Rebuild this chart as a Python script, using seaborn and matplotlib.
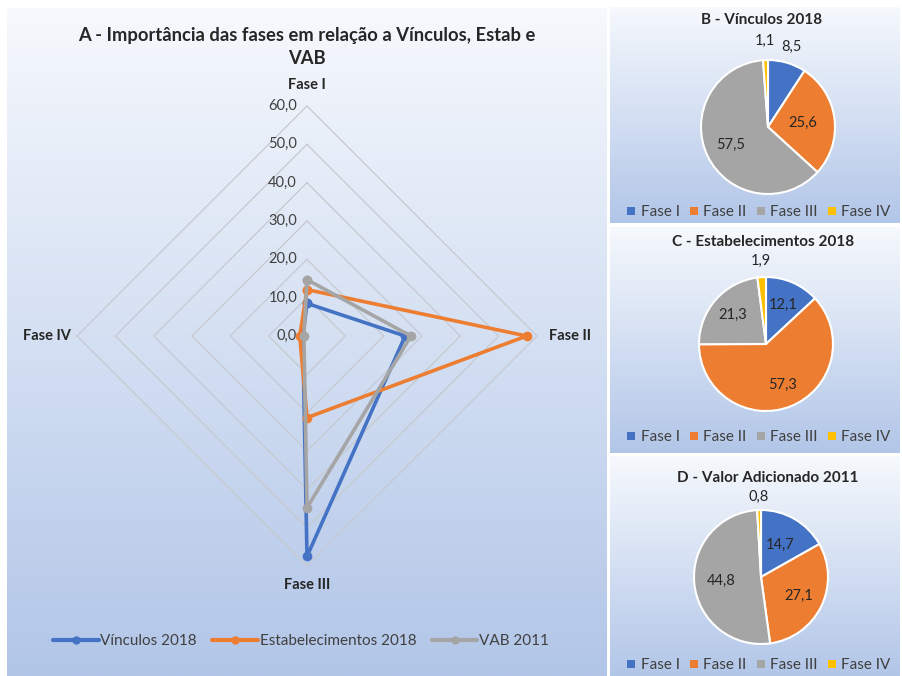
import numpy as np
import pandas as pd
import matplotlib
matplotlib.use('Agg')
import matplotlib.pyplot as plt
import seaborn as sns
from matplotlib.colors import LinearSegmentedColormap
from matplotlib.lines import Line2D

# ---------------- data ----------------
fases = ['Fase I', 'Fase II', 'Fase III', 'Fase IV']
vinculos_2018 = [8.5, 25.6, 57.5, 1.1]
estab_2018 = [12.1, 57.3, 21.3, 1.9]
vab_2011 = [14.7, 27.1, 44.8, 0.8]
series_names = ['Vínculos 2018', 'Estabelecimentos 2018', 'VAB 2011']
radar_ticks = [0, 10, 20, 30, 40, 50, 60]
radar_title = 'A - Importância das fases em relação a Vínculos, Estab e\nVAB'
pie_titles = ['B - Vínculos 2018', 'C - Estabelecimentos 2018', 'D - Valor Adicionado 2011']

colors = ['#4472C4', '#ED7D31', '#A5A5A5', '#FFC000']

W, H = 902, 676
sns.set_theme(style='white')
plt.rcParams['font.family'] = ['Lato', 'DejaVu Sans']
fig = plt.figure(figsize=(W / 100, H / 100), dpi=100)
fig.patch.set_facecolor('white')


def box(x0, y0, x1, y1):
    return [x0 / W, 1 - y1 / H, (x1 - x0) / W, (y1 - y0) / H]


cmap = LinearSegmentedColormap.from_list('bg', ['#f6f9fd', '#b2c6e8'])
grad = np.linspace(0, 1, 256).reshape(-1, 1)


def panel(x0, y0, x1, y1):
    a = fig.add_axes(box(x0, y0, x1, y1), zorder=0)
    a.imshow(grad, cmap=cmap, aspect='auto', extent=(0, 1, 0, 1), origin='upper')
    a.axis('off')


panel(7, 8, 607, 676)
panel(610, 7, 900, 223)
panel(610, 227, 900, 453)
panel(610, 456, 900, 676)

# ---------------- radar ----------------
cx, cy, R = 307, 336, 230
half = 270
lim = half / R * 60
ax = fig.add_axes(box(cx - half, cy - half, cx + half, cy + half), zorder=2)
ax.set_xlim(-lim, lim)
ax.set_ylim(-lim, lim)
ax.axis('off')
ax.patch.set_alpha(0)

theta = np.deg2rad([0, 90, 180, 270])
for r in radar_ticks[1:]:
    gx = np.r_[r * np.sin(theta), 0]
    gy = np.r_[r * np.cos(theta), r]
    ax.plot(gx, gy, color='#c6c9cf', lw=0.9, zorder=1)
for r in radar_ticks:
    ax.text(-2.6, r, f'{r:.1f}'.replace('.', ','), ha='right', va='center',
            fontsize=10.5, color='#404040')

for name, vals, col in zip(series_names, [vinculos_2018, estab_2018, vab_2011], colors):
    v = np.array(vals + vals[:1])
    t = np.r_[theta, theta[0]]
    df = pd.DataFrame({'x': v * np.sin(t), 'y': v * np.cos(t)})
    sns.lineplot(data=df, x='x', y='y', sort=False, estimator=None, ax=ax,
                 color=col, lw=2.6, marker='o', markersize=7, markeredgewidth=0,
                 zorder=3)
ax.set_xlabel('')
ax.set_ylabel('')
ax.set_xlim(-lim, lim)
ax.set_ylim(-lim, lim)

lab_kw = dict(fontsize=10.5, fontweight='bold', color='#262626')
ax.text(0, 65.5, fases[0], ha='center', va='center', **lab_kw)
ax.text(63.2, 0, fases[1], ha='left', va='center', **lab_kw)
ax.text(0, -65, fases[2], ha='center', va='center', **lab_kw)
ax.text(-61.5, 0, fases[3], ha='right', va='center', **lab_kw)

fig.text(307 / W, 1 - 47 / H, radar_title, ha='center', va='center',
         fontsize=13.2, fontweight='bold', color='#262626', linespacing=1.4)

handles = [Line2D([], [], color=c, lw=3, marker='o', markersize=6, markeredgewidth=0)
           for c in colors[:3]]
fig.legend(handles, series_names, loc='center', bbox_to_anchor=(301 / W, 1 - 641 / H),
           ncol=3, frameon=False, fontsize=11, handlelength=3.0, handletextpad=0.1,
           columnspacing=1.0, labelcolor='#404040')

# ---------------- pies ----------------
pie_data = [vinculos_2018, estab_2018, vab_2011]
pie_centers = [(768, 127), (766, 344), (761, 577)]
pie_r = 67
label_dist = [[1.24, 0.52, 0.62, 1.28], [0.64, 0.66, 0.67, 1.25], [0.56, 0.62, 0.6, 1.2]]
title_pos = [(762, 20), (763, 242), (768, 478)]
legend_y = [212, 437, 665]

for vals, (pcx, pcy), dists, title, (tx, ty), ly in zip(pie_data, pie_centers, label_dist,
                                                        pie_titles, title_pos, legend_y):
    pa = fig.add_axes(box(pcx - pie_r, pcy - pie_r, pcx + pie_r, pcy + pie_r), zorder=2)
    wedges, _ = pa.pie(vals, colors=colors, startangle=90, counterclock=False,
                       wedgeprops=dict(edgecolor='white', linewidth=1.5))
    pa.set_xlim(-1, 1)
    pa.set_ylim(-1, 1)
    pa.set_aspect('equal')
    pa.axis('off')
    for w, v, d in zip(wedges, vals, dists):
        ang = np.deg2rad((w.theta1 + w.theta2) / 2)
        pa.text(d * np.cos(ang), d * np.sin(ang), f'{v:.1f}'.replace('.', ','),
                ha='center', va='center', fontsize=10.5, color='#262626')
    fig.text(tx / W, 1 - ty / H, title, ha='center', va='center', fontsize=11,
             fontweight='bold', color='#262626')
    sq = [Line2D([], [], ls='none', marker='s', markersize=6, color=c, markeredgewidth=0)
          for c in colors]
    fig.legend(sq, fases, loc='center', bbox_to_anchor=(758 / W, 1 - ly / H), ncol=4,
               frameon=False, fontsize=11, handlelength=0.8, handletextpad=0.2,
               columnspacing=0.55, labelcolor='#404040')

fig.savefig('out.png', dpi=100, facecolor='white')
